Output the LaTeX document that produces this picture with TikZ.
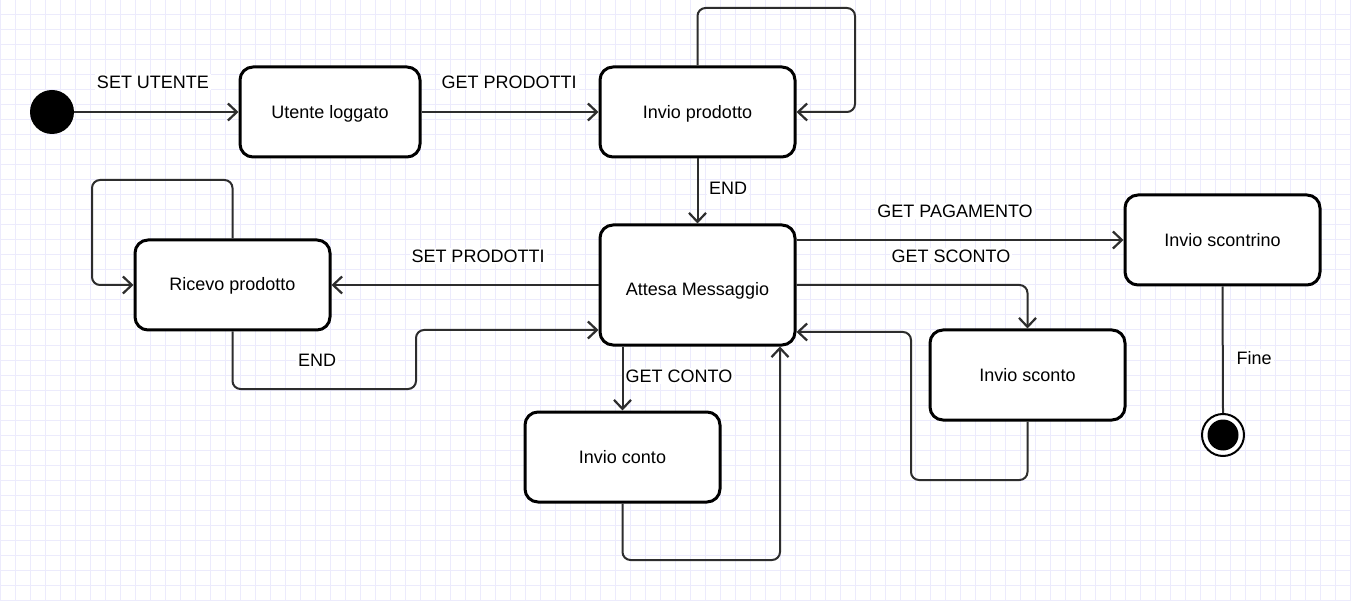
\documentclass[tikz,border=0pt]{standalone}
\usepackage{fontspec}
\setmainfont{Liberation Sans}
\usetikzlibrary{arrows.meta}
\definecolor{gridc}{RGB}{236,235,252}
\definecolor{edgec}{RGB}{45,45,45}
\newcommand{\lowertxt}[2]{\raisebox{-#1}[\height][\depth]{#2}}
\begin{document}
\begin{tikzpicture}[x=1pt,y=-1pt,
  state/.style={draw=black, line width=3pt, rounded corners=13pt, fill=white,
    minimum width=195pt, minimum height=90pt, inner sep=0pt,
    font=\fontsize{18}{21}\selectfont, text=black},
  conn/.style={draw=edgec, line width=2pt, rounded corners=8pt,
    -{Straight Barb[length=9pt,width=17pt,line width=2.2pt]}},
  plain/.style={draw=edgec, line width=2pt},
  lbl/.style={fill=white, inner sep=2pt, font=\fontsize{18}{21}\selectfont, text=black}
]
\useasboundingbox (0,0) rectangle (1351,601);
\fill[white] (0,0) rectangle (1351,601);
\foreach \x in {0,15,...,1350} \draw[gridc, line width=1pt] (\x,0) -- (\x,601);
\foreach \y in {0,15,...,600} \draw[gridc, line width=1pt] (0,\y) -- (1351,\y);

% states
\node[circle, fill=black, minimum size=44pt, inner sep=0pt] (init) at (52,112) {};
\node[state, minimum width=180pt] (ul) at (330,112) {\lowertxt{2pt}{Utente loggato}};
\node[state] (ip) at (697.5,112) {\lowertxt{2pt}{Invio prodotto}};
\node[state, minimum height=120pt] (am) at (697.5,285) {\lowertxt{6pt}{Attesa Messaggio}};
\node[state] (rp) at (232.5,285) {\lowertxt{1pt}{Ricevo prodotto}};
\node[state] (ic) at (622.5,457) {Invio conto};
\node[state] (is) at (1222.5,240) {Invio scontrino};
\node[state] (isc) at (1027.5,375) {Invio sconto};
\node[circle, draw=black, line width=2pt, fill=white, minimum size=42pt, inner sep=0pt] (fin) at (1223,435) {};
\node[circle, fill=black, minimum size=31pt, inner sep=0pt] (finin) at (1223,435) {};

% helper coordinates
\coordinate (ipl) at (855,8);
\coordinate (rpl) at (92,180);
\coordinate (e1) at (416,389);
\coordinate (e2) at (416,330);
\coordinate (c1) at (780,560);
\coordinate (s1) at (911,480);
\coordinate (s2) at (911,332);

% connectors
\draw[conn] (init) -- (ul);
\draw[conn] (ul) -- (ip);
\draw[conn] (ip.north) -- (ip.north |- ipl) -- (ipl) -- (ipl |- ip.east) -- (ip.east);
\draw[conn] (ip.south) -- (am.north);
\draw[conn] (am.west) -- (rp.east);
\draw[conn] (rp.north) -- (rp.north |- rpl) -- (rpl) -- (rpl |- rp.west) -- (rp.west);
\draw[conn] (rp.south) -- (rp.south |- e1) -- (e1) -- (e2) -- (am.west |- e2);
\draw[conn] (am.south -| ic.north) -- (ic.north);
\draw[conn] (ic.south) -- (ic.south |- c1) -- (c1) -- (c1 |- am.south);
\draw[conn] (am.east |- is.west) -- (is.west);
\draw[conn] (am.east) -- (am.east -| isc.north) -- (isc.north);
\draw[conn] (isc.south) -- (isc.south |- s1) -- (s1) -- (s2) -- (am.east |- s2);
\draw[plain] (is.south) -- (fin.north);

% labels
\node[lbl] (lsu) at (153,82) {SET UTENTE};
\node[lbl] (lgp) at (509,82) {GET PRODOTTI};
\node[lbl] (len1) at (728,188) {END};
\node[lbl] (lpag) at (955,211) {GET PAGAMENTO};
\node[lbl] (lsc) at (951,256) {GET SCONTO};
\node[lbl] (lsp) at (478,256) {SET PRODOTTI};
\node[lbl] (len2) at (317,360) {END};
\node[lbl] (lgc) at (679,376) {GET CONTO};
\node[lbl] (lfine) at (1254,358) {Fine};
\end{tikzpicture}
\end{document}
